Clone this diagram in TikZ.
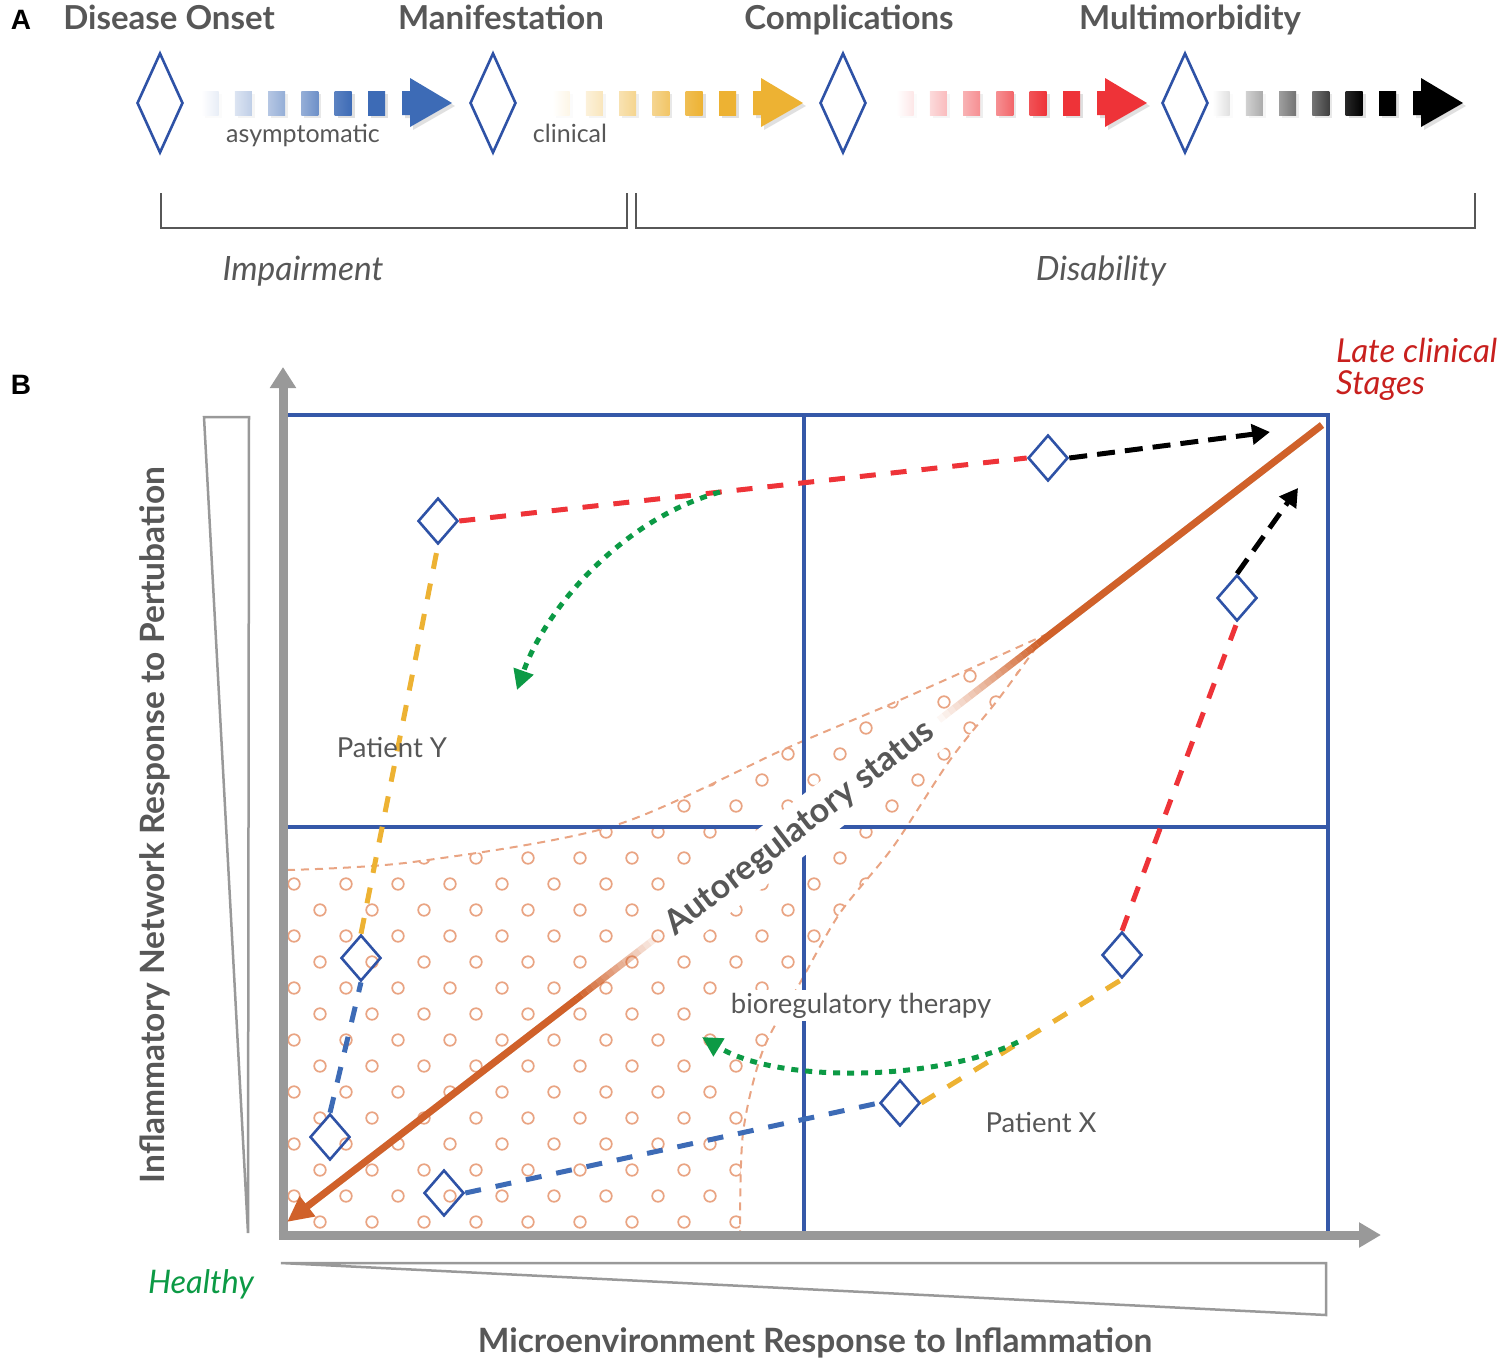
\documentclass[tikz,border=0pt]{standalone}
\usepackage{fontspec}
\setmainfont{Lato}
\newfontfamily\panelfont{Liberation Sans}
\usetikzlibrary{shapes.geometric,arrows.meta,calc}
\definecolor{dblue}{HTML}{2E52A6}
\definecolor{gblue}{HTML}{3558A8}
\definecolor{ablue}{HTML}{3D6BB6}
\definecolor{ayellow}{HTML}{EDB233}
\definecolor{ared}{HTML}{EE3338}
\definecolor{ablack}{HTML}{000000}
\definecolor{tgray}{HTML}{575757}
\definecolor{axgray}{HTML}{999999}
\definecolor{orng}{HTML}{D0612A}
\definecolor{peach}{HTML}{E9A483}
\definecolor{hgreen}{HTML}{0C9A45}
\definecolor{lred}{HTML}{C8201E}

\newcommand{\arrseries}[2]{%
 \foreach \k/\a/\b in {1/0/12,2/18/33,3/38/55,4/55/75,5/85/100,6/100/100}{%
   \pgfmathsetmacro{\xl}{#2-(6-\k)*33.3}%
   \pgfmathsetmacro{\sop}{0.0012*\b}%
   \fill[black, opacity=\sop] (\xl+3,94) rectangle ++(17,24);%
   \shade[left color=#1!\a!white, right color=#1!\b!white] (\xl,91) rectangle ++(17,24);%
 }%
 \fill[black,opacity=0.12] (#2+37,94) -- (#2+45,94) -- (#2+45,81) -- (#2+87,106) -- (#2+45,130) -- (#2+45,118) -- (#2+37,118) -- cycle;
 \fill[#1] (#2+34,91) -- (#2+42,91) -- (#2+42,78) -- (#2+84,103) -- (#2+42,127) -- (#2+42,115) -- (#2+34,115) -- cycle;
}

\begin{document}
\begin{tikzpicture}[x=1pt,y=-1pt,
  tdiam/.style={diamond,draw=dblue,line width=2.6pt,inner sep=0pt,minimum width=46pt,minimum height=100pt},
  sdiam/.style={diamond,draw=dblue,line width=2.6pt,inner sep=0pt,minimum width=40pt,minimum height=46pt},
  ttl/.style={text=tgray,font=\fontsize{33}{33}\selectfont\bfseries,inner sep=0pt,anchor=base},
  sub/.style={text=tgray,font=\fontsize{25}{25}\selectfont,inner sep=0pt,anchor=base},
  ital/.style={text=tgray,font=\fontsize{33.5}{33.5}\selectfont\itshape,inner sep=0pt,anchor=base},
  pdash/.style={line width=5pt,dash pattern=on 16pt off 15pt},
  kdash/.style={draw=black,line width=5pt,dash pattern=on 18pt off 10pt,-{Triangle[length=18pt,width=20pt]}},
  gdot/.style={draw=hgreen,line width=5pt,dash pattern=on 7pt off 7pt,-{Triangle[length=20pt,width=20pt]}},
  brk/.style={draw=tgray,line width=2.2pt},
  oline/.style={draw=orng,line width=7pt},
  bound/.style={draw=peach,line width=2pt,dash pattern=on 8pt off 6pt},
  gridl/.style={draw=gblue,line width=4pt},
  axl/.style={draw=axgray,line width=9pt},
  wedge/.style={draw=axgray,line width=2.5pt},
  ptxt/.style={text=tgray,font=\fontsize{27.5}{27.5}\selectfont,inner sep=0pt},
  axtxt/.style={text=tgray,font=\fontsize{33.5}{33.5}\selectfont\bfseries,inner sep=0pt,anchor=base},
]
\useasboundingbox (0,0) rectangle (1499,1363);

% ---------- Panel A ----------
\node[font=\panelfont\bfseries\fontsize{28}{28}\selectfont,inner sep=0pt,anchor=base] (lA) at (21,29) {A};
\node[ttl] (t1) at (169,29) {Disease Onset};
\node[ttl] (t2) at (501,29) {Manifestation};
\node[ttl] (t3) at (849,29) {Complications};
\node[ttl] (t4) at (1190,29) {Multimorbidity};

\arrseries{ablue}{368}
\arrseries{ayellow}{719}
\arrseries{ared}{1063}
\arrseries{ablack}{1379}

\node[tdiam] (a1) at (160,103) {};
\node[tdiam] (a2) at (493,103) {};
\node[tdiam] (a3) at (843,103) {};
\node[tdiam] (a4) at (1185,103) {};

\node[sub] (asy) at (303,142) {asymptomatic};
\node[sub] (cli) at (570,142) {clinical};

\draw[brk] (161,193) -- (161,228) -- (627,228) -- (627,193);
\draw[brk] (636,193) -- (636,228) -- (1475,228) -- (1475,193);
\node[ital] (imp) at (303,280) {Impairment};
\node[ital] (dis) at (1101,280) {Disability};

% ---------- Panel B ----------
\node[font=\panelfont\bfseries\fontsize{28}{28}\selectfont,inner sep=0pt,anchor=base] (lB) at (21,394) {B};

% dotted region
\begin{scope}
\clip plot[smooth] coordinates {(287,870) (413,862) (613,826) (787,748) (900,700) (1045,635)}
  -- plot[smooth] coordinates {(1045,635) (1000,697) (950,760) (893,847) (840,913) (800,983) (763,1050) (743,1133) (740,1232)}
  -- (287,1232) -- cycle;
\foreach \j in {-11,...,13}{
  \foreach \i in {0,...,15}{
    \pgfmathsetmacro{\cx}{294+52*\i+26*mod(abs(\j),2)}
    \pgfmathsetmacro{\cy}{884+26*\j}
    \draw[peach,line width=1.7pt] (\cx,\cy) circle[radius=5.8pt];
  }
}
\end{scope}
\draw[bound] plot[smooth] coordinates {(287,870) (413,862) (613,826) (787,748) (900,700) (1045,635)};
\draw[bound] plot[smooth] coordinates {(1045,635) (1000,697) (950,760) (893,847) (840,913) (800,983) (763,1050) (743,1133) (740,1232)};

% grid
\draw[gridl] (283,415) -- (1328,415) -- (1328,1235);
\draw[gridl] (804,415) -- (804,1235);
\draw[gridl] (283,827) -- (1328,827);

% axes and wedges
\draw[axl,-{Triangle[length=21pt,width=25pt]}] (283,1239.5) -- (283,367);
\draw[axl,-{Triangle[length=22pt,width=24pt]}] (278.5,1235) -- (1381,1235);
\draw[wedge] (204,417) -- (249,417) -- (248,1233) -- cycle;
\draw[wedge] (281,1263) -- (1326,1263) -- (1326,1315) -- cycle;

% orange diagonal
\coordinate (OA) at (1322,425);
\coordinate (OB) at (287,1222);
\begin{scope}[shift={(3,4)}]
\draw[line width=7pt,black,opacity=0.13] (OA) -- ($(OA)!0.27!(OB)$);
\draw[line width=7pt,black,opacity=0.13] ($(OA)!0.72!(OB)$) -- ($(OA)!0.98!(OB)$);
\end{scope}
\draw[oline] (OA) -- ($(OA)!0.27!(OB)$);
\foreach \n in {0,...,19}{
  \pgfmathsetmacro{\ta}{0.27+\n*0.005}
  \pgfmathsetmacro{\tb}{\ta+0.005}
  \pgfmathsetmacro{\op}{1-\n/20}
  \draw[oline,draw opacity=\op] ($(OA)!\ta!(OB)$) -- ($(OA)!\tb!(OB)$);
}
\foreach \n in {0,...,15}{
  \pgfmathsetmacro{\ta}{0.64+\n*0.005}
  \pgfmathsetmacro{\tb}{\ta+0.005}
  \pgfmathsetmacro{\op}{(\n+1)/16}
  \draw[oline,draw opacity=\op] ($(OA)!\ta!(OB)$) -- ($(OA)!\tb!(OB)$);
}
\draw[oline,-{Triangle[length=26pt,width=24pt]}] ($(OA)!0.72!(OB)$) -- (OB);

% patient diamonds
\node[sdiam] (d1) at (438,521) {};
\node[sdiam] (d2) at (1048,458) {};
\node[sdiam] (d3) at (1237,598) {};
\node[sdiam] (d4) at (361,958) {};
\node[sdiam] (d5) at (330,1137) {};
\node[sdiam] (d6) at (444,1193) {};
\node[sdiam] (d7) at (900,1103) {};
\node[sdiam] (d8) at (1122,955) {};
\coordinate (k1) at (1270,432);
\coordinate (k2) at (1298,488);

% patient Y
\draw[ablue,pdash] (d5.north) -- (d4.south);
\draw[ayellow,pdash] (d4.north) -- (d1.south);
\draw[ared,pdash] (d1.east) -- (d2.west);
\draw[kdash] (d2.east) -- (k1);
% patient X
\draw[ablue,pdash] (d6.east) -- (d7.west);
\draw[ayellow,pdash] (d7.east) -- (d8.south);
\draw[ared,pdash] (d8.north) -- (d3.south);
\draw[kdash] (d3.north) -- (k2);

% green arrows
\coordinate (g1s) at (720,492);
\coordinate (g1e) at (517,690);
\draw[gdot] (g1s) .. controls (620,520) and (545,610) .. (g1e);
\coordinate (g2s) at (1018,1042);
\coordinate (g2e) at (702,1037);
\draw[gdot] (g2s) .. controls (940,1080) and (780,1085) .. (g2e);

% texts
\node[text=tgray,font=\fontsize{34}{34}\selectfont\bfseries,fill=white,rotate=37.6,inner xsep=3pt,inner ysep=9pt] (auto) at (800,828) {Autoregulatory status};
\node[ptxt,fill=white,inner sep=3pt,anchor=base] (bio) at (861,1013) {bioregulatory therapy};
\node[ptxt] (py) at (392,748) {Patient Y};
\node[ptxt] (px) at (1041,1123) {Patient X};
\node[text=hgreen,font=\fontsize{32.5}{32.5}\selectfont\itshape,inner sep=0pt,anchor=base] (hl) at (201,1293) {Healthy};
\node[text=lred,font=\fontsize{33}{33}\selectfont\itshape,inner sep=0pt,anchor=base west] (lc1) at (1336,362) {Late clinical};
\node[text=lred,font=\fontsize{33}{33}\selectfont\itshape,inner sep=0pt,anchor=base west] (lc2) at (1336,394) {Stages};
\node[axtxt] (xl) at (815,1352) {Microenvironment Response to Inflammation};
\node[axtxt,rotate=90] (yl) at (164,825) {Inflammatory Network Response to Pertubation};
\end{tikzpicture}
\end{document}
